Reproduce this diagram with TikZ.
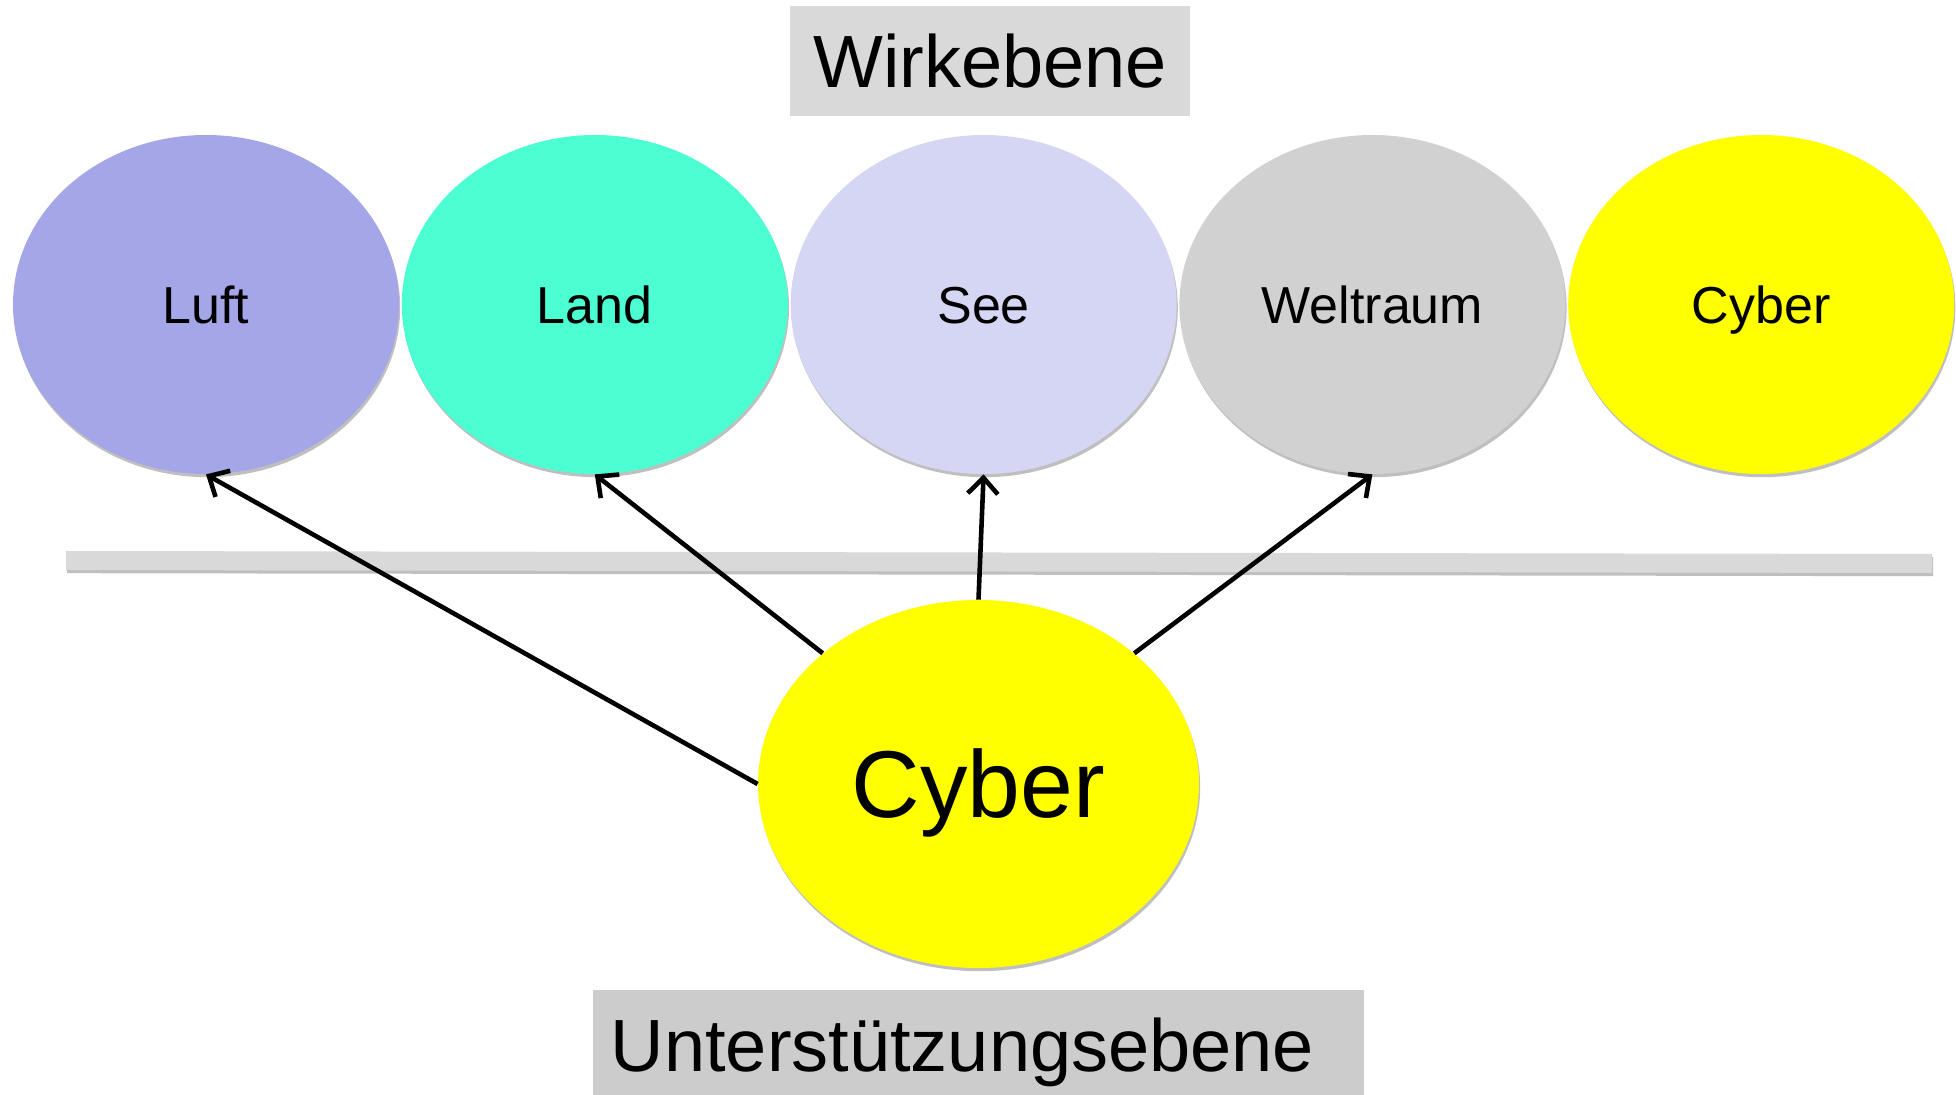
\documentclass[tikz,border=0pt]{standalone}
\usepackage{fontspec}
\setmainfont{Liberation Sans}
\usetikzlibrary{shapes.geometric,positioning,shadows,arrows.meta,calc}

\definecolor{luftcol}{HTML}{A4A6E8}
\definecolor{landcol}{HTML}{4BFFD2}
\definecolor{seecol}{HTML}{D5D6F4}
\definecolor{raumcol}{HTML}{D1D1D1}
\definecolor{cybercol}{HTML}{FFFF00}
\definecolor{boxcol}{HTML}{D9D9D9}
\definecolor{boxcolB}{HTML}{CCCCCC}

\begin{document}
\begin{tikzpicture}[x=0.5pt,y=-0.5pt,
  schatten/.style={drop shadow={shadow xshift=0.6pt,shadow yshift=-1.6pt,opacity=0.25,fill=black}},
  bereich/.style={ellipse,inner sep=0pt,minimum width=193pt,minimum height=169.5pt,schatten,
    text height=18.6pt,text depth=0pt,font=\fontsize{26}{30}\selectfont},
  ebene/.style={inner sep=0pt,minimum height=55pt,text height=26.5pt,text depth=0pt,font=\fontsize{37}{42}\selectfont},
  pfeil/.style={line width=2.3pt,-{Straight Barb[length=8pt,width=15pt,line width=2.3pt]}}]

\useasboundingbox (0,0) rectangle (1956,1095);

%Separating bar
\coordinate (L) at (66,551);
\coordinate (R) at (1932,554);
\fill[boxcol,schatten] (L) -- (R) -- ($(R)+(0,19)$) -- ($(L)+(0,19)$) -- cycle;

%Level labels
\node[ebene,fill=boxcol,minimum width=200pt] (wirk) at (990,61) {Wirkebene};
\node[ebene,fill=boxcolB,minimum width=385.5pt] (unter) at (978.5,1045) {Unterstützungsebene\kern16pt};

%Domains
\node[bereich,fill=luftcol] (luft) at (206,304.5) {Luft};
\node[bereich,fill=landcol,right=1pt of luft] (land) {Land};
\node[bereich,fill=seecol,right=1pt of land] (see) {See};
\node[bereich,fill=raumcol,right=1pt of see] (weltraum) {Weltraum};
\node[bereich,fill=cybercol,right=1pt of weltraum] (cyberW) {Cyber};

%Supporting cyber
\node[ellipse,inner sep=0pt,minimum width=220.5pt,minimum height=184pt,fill=cybercol,schatten,
  text height=34pt,text depth=0pt,font=\fontsize{47.5}{52}\selectfont] (cyberU) at (978.5,784) {Cyber};

%Arrows
\draw[pfeil] (cyberU.west) -- (luft.south);
\draw[pfeil] (cyberU.140) -- (land.south);
\draw[pfeil] (cyberU.north) -- (see.south);
\draw[pfeil] (cyberU.40) -- (weltraum.south);
\end{tikzpicture}
\end{document}
